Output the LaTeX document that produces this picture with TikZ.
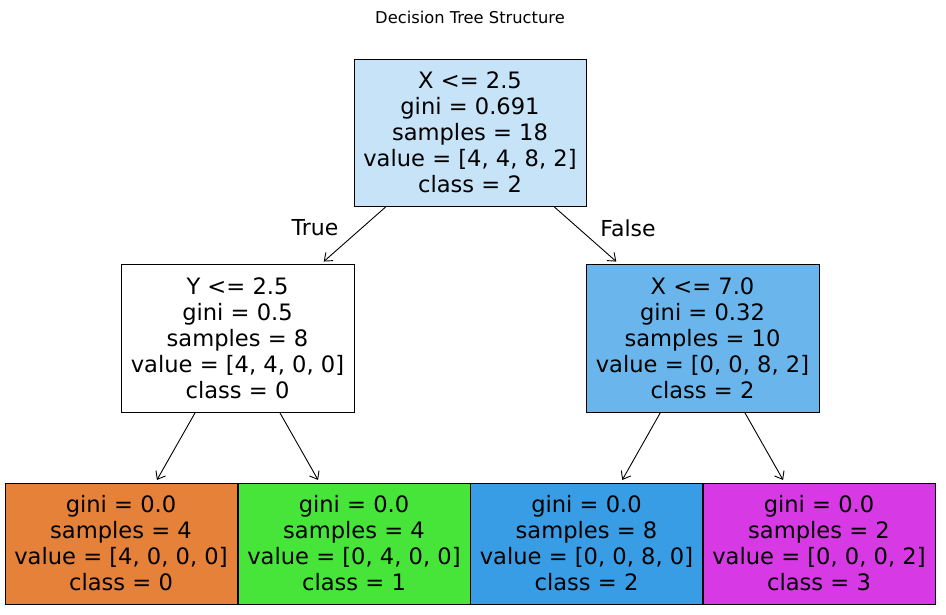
\documentclass[tikz,border=0pt]{standalone}
\usepackage{fontspec}
\setmainfont{DejaVu Sans}
\usetikzlibrary{arrows.meta}
\definecolor{rootc}{HTML}{C6E3F7}
\definecolor{rightc}{HTML}{6AB6EC}
\definecolor{cls0}{HTML}{E58139}
\definecolor{cls1}{HTML}{47E539}
\definecolor{cls2}{HTML}{399DE5}
\definecolor{cls3}{HTML}{D739E5}
\tikzset{
  treenode/.style={draw=black, line width=0.9pt, rectangle, align=center, inner sep=0pt,
    font=\fontsize{22.6}{26}\selectfont},
  inner/.style={treenode, minimum width=232pt, minimum height=147pt},
  leaf/.style={treenode, minimum width=232pt, minimum height=121pt},
  edge/.style={line width=0.9pt, -{Straight Barb[length=7pt,width=11pt]}, shorten >=3pt},
  edgelabel/.style={font=\fontsize{22}{26}\selectfont}
}
\begin{document}
\begin{tikzpicture}[x=1pt,y=-1pt]
\useasboundingbox (0,0) rectangle (946,614);
\node[font=\fontsize{16.3}{19}\selectfont] (title) at (470,17) {Decision Tree Structure};
\node[inner, fill=rootc] (root) at (470,132.5) {X <= 2.5\\gini = 0.691\\samples = 18\\value = [4, 4, 8, 2]\\class = 2};
\node[inner, fill=white, minimum width=233pt, minimum height=148pt] (left) at (237.5,338) {Y <= 2.5\\gini = 0.5\\samples = 8\\value = [4, 4, 0, 0]\\class = 0};
\node[inner, fill=rightc, minimum width=233pt, minimum height=148pt] (right) at (702.5,338) {X <= 7.0\\gini = 0.32\\samples = 10\\value = [0, 0, 8, 2]\\class = 2};
\node[leaf, fill=cls0] (l1) at (121,543.5) {gini = 0.0\\samples = 4\\value = [4, 0, 0, 0]\\class = 0};
\node[leaf, fill=cls1] (l2) at (354,543.5) {gini = 0.0\\samples = 4\\value = [0, 4, 0, 0]\\class = 1};
\node[leaf, fill=cls2] (l3) at (586.5,543.5) {gini = 0.0\\samples = 8\\value = [0, 0, 8, 0]\\class = 2};
\node[leaf, fill=cls3] (l4) at (819,543.5) {gini = 0.0\\samples = 2\\value = [0, 0, 0, 2]\\class = 3};
\draw[edge] (root) -- (left);
\draw[edge] (root) -- (right);
\draw[edge] (left) -- (l1);
\draw[edge] (left) -- (l2);
\draw[edge] (right) -- (l3);
\draw[edge] (right) -- (l4);
\node[edgelabel] (truelbl) at (315,228) {True};
\node[edgelabel] (falselbl) at (628,228) {False};
\end{tikzpicture}
\end{document}
